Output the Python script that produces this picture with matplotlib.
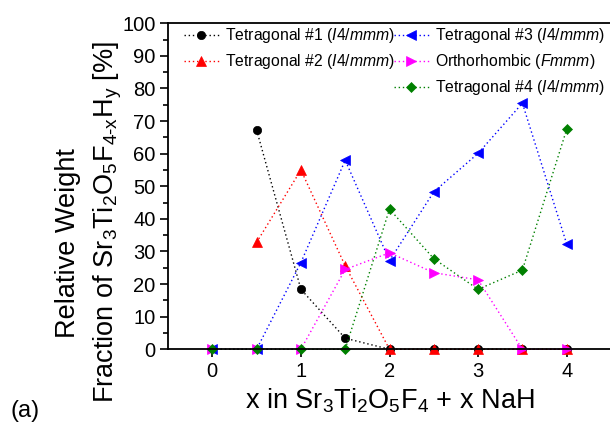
import matplotlib
matplotlib.use("Agg")
import matplotlib.pyplot as plt

nan = float("nan")

plt.rcParams["font.family"] = ["Liberation Sans", "DejaVu Sans"]
plt.rcParams["mathtext.fontset"] = "custom"
plt.rcParams["mathtext.rm"] = "Liberation Sans"
plt.rcParams["mathtext.it"] = "Liberation Sans:italic"
plt.rcParams["mathtext.default"] = "regular"

# NaH equivalents added to Sr3Ti2O5F4
x_nah = [0, 0.5, 1, 1.5, 2, 2.5, 3, 3.5, 4]

# relative weight fractions [%] of each refined phase
tetragonal_1 = [nan, 67.3, 18.4, 3.4, 0, 0, 0, 0, 0]
tetragonal_2 = [nan, 32.8, 55.0, 25.6, 0, 0, 0, 0, 0]
tetragonal_3 = [0, 0, 26.6, 58.0, 27.2, 48.3, 60.1, 75.5, 32.3]
orthorhombic = [0, 0, 0, 24.5, 29.6, 23.5, 21.3, 0, 0]
tetragonal_4 = [0, 0, 0, 0, 43.0, 27.8, 18.4, 24.3, 67.5]

labels = [
    r"Tetragonal #1 ($\mathit{I4/mmm}$)",
    r"Tetragonal #2 ($\mathit{I4/mmm}$)",
    r"Tetragonal #3 ($\mathit{I4/mmm}$)",
    r"Orthorhombic ($\mathit{Fmmm}$)",
    r"Tetragonal #4 ($\mathit{I4/mmm}$)",
]
series = [tetragonal_1, tetragonal_2, tetragonal_3, orthorhombic, tetragonal_4]
colors = ["black", "red", "blue", "magenta", "green"]
markers = ["o", "^", "<", ">", "D"]
sizes = [6, 7, 7.5, 7.5, 5.5]

fig = plt.figure(figsize=(6.10, 4.29), dpi=100)
ax = fig.add_axes([168 / 610, 1 - 349.3 / 429, 443 / 610, 326 / 429])

handles = []
for ys, lab, c, m, s in zip(series, labels, colors, markers, sizes):
    (ln,) = ax.plot(x_nah, ys, color=c, marker=m, markersize=s, linestyle=(0, (1, 2)),
                    linewidth=1.0, markeredgewidth=0.5, markeredgecolor=c, label=lab,
                    clip_on=False)
    handles.append(ln)

ax.set_xlim(-0.5, 4.5)
ax.set_ylim(0, 100)
ax.set_xticks([0, 1, 2, 3, 4])
ax.set_yticks(range(0, 101, 10))
ax.set_yticks(range(5, 100, 10), minor=True)
ax.tick_params(axis="both", which="major", direction="out", length=6, width=1.2,
               labelsize=14.5, pad=3)
ax.tick_params(axis="y", which="minor", direction="out", length=3.5, width=1.2)
ax.spines["right"].set_visible(False)
for side in ("left", "bottom", "top"):
    ax.spines[side].set_linewidth(1.3)

ax.set_xlabel(r"x in Sr$_3$Ti$_2$O$_5$F$_4$ + x NaH", fontsize=19.5, labelpad=4)

fig.text(68 / 610, 1 - 243 / 429, "Relative Weight", rotation=90,
         ha="center", va="center", fontsize=19.5)
fig.text(108 / 610, 1 - 222 / 429, r"Fraction of Sr$_3$Ti$_2$O$_5$F$_{4\text{-}x}$H$_y$ [%]",
         rotation=90, ha="center", va="center", fontsize=19.5)
fig.text(10 / 610, 1 - 411 / 429, "(a)", ha="left", va="center", fontsize=17)

# two legend columns placed side by side
leg_kw = dict(loc="upper left", bbox_transform=fig.transFigure, frameon=False,
              fontsize=11.3, handlelength=2.2, handletextpad=0.4,
              labelspacing=0.45, borderpad=0, borderaxespad=0)
leg1 = ax.legend(handles[:2], labels[:2], bbox_to_anchor=(184 / 610, 1 - 26 / 429), **leg_kw)
ax.add_artist(leg1)
ax.legend(handles[2:], labels[2:], bbox_to_anchor=(394 / 610, 1 - 26 / 429), **leg_kw)

fig.savefig("out.png", dpi=100)
